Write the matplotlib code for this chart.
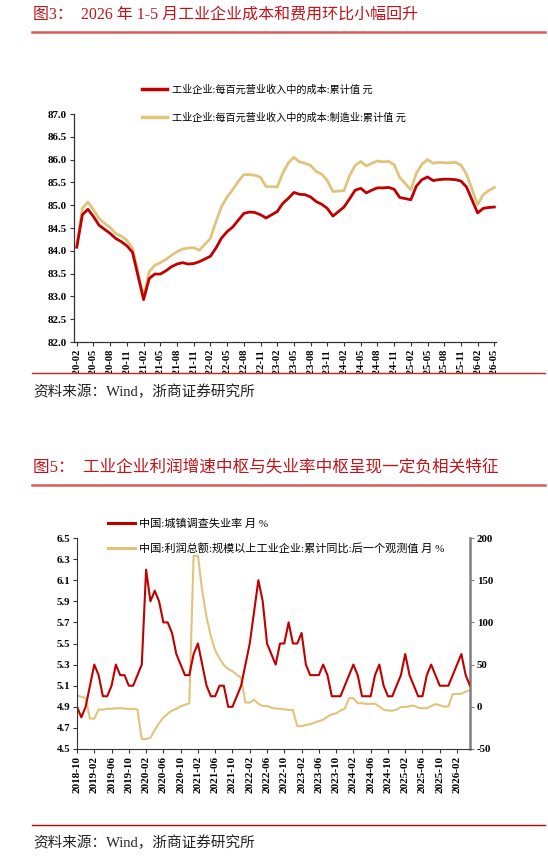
import numpy as np
import pandas as pd
import matplotlib
matplotlib.use("Agg")
import matplotlib.pyplot as plt
from matplotlib.lines import Line2D
from matplotlib.patches import Rectangle

plt.rcParams['font.family'] = ['Liberation Serif', 'Noto Sans CJK SC']

nan = np.nan

# ---- figure 3 data: cost per 100 yuan revenue (January has no print)
months_top = pd.period_range('2020-02', '2026-05', freq='M')
cost_total = [84.08, 84.79, 84.91, 84.75, 84.56, 84.47, 84.38, 84.27, 84.20, 84.11, 83.97, nan,
              82.93, 83.39, 83.49, 83.49, 83.56, 83.65, 83.71, 83.74, 83.71, 83.72, 83.76, nan,
              83.88, 84.06, 84.28, 84.42, 84.52, 84.67, 84.82, 84.85, 84.84, 84.79, 84.72, nan,
              84.86, 85.04, 85.15, 85.28, 85.24, 85.23, 85.18, 85.08, 85.02, 84.93, 84.76, nan,
              84.96, 85.14, 85.33, 85.37, 85.27, 85.33, 85.38, 85.38, 85.39, 85.35, 85.17, nan,
              85.12, 85.42, 85.56, 85.62, 85.54, 85.56, 85.57, 85.57, 85.56, 85.53, 85.40, nan,
              84.83, 84.93, 84.95, 84.96]
cost_manu = [84.10, 84.93, 85.07, 84.90, 84.71, 84.60, 84.51, 84.38, 84.32, 84.23, 84.06, nan,
             82.99, 83.54, 83.68, 83.74, 83.81, 83.90, 83.98, 84.04, 84.06, 84.07, 84.01, nan,
             84.27, 84.64, 84.97, 85.18, 85.34, 85.52, 85.67, 85.67, 85.66, 85.61, 85.41, nan,
             85.40, 85.70, 85.93, 86.05, 85.95, 85.92, 85.87, 85.74, 85.68, 85.54, 85.30, nan,
             85.32, 85.65, 85.87, 85.96, 85.86, 85.92, 85.97, 85.95, 85.96, 85.89, 85.61, nan,
             85.34, 85.70, 85.90, 86.00, 85.92, 85.94, 85.93, 85.93, 85.94, 85.88, 85.68, nan,
             85.01, 85.23, 85.32, 85.39]
label_top_1 = '工业企业:每百元营业收入中的成本:累计值 元'
label_top_2 = '工业企业:每百元营业收入中的成本:制造业:累计值 元'

# ---- figure 5 data
months_bot = pd.period_range('2018-10', '2026-05', freq='M')
unemp = [4.9, 4.8, 4.9,
         5.1, 5.3, 5.2, 5.0, 5.0, 5.1, 5.3, 5.2, 5.2, 5.1, 5.1, 5.2,
         5.3, 6.2, 5.9, 6.0, 5.9, 5.7, 5.7, 5.6, 5.4, 5.3, 5.2, 5.2,
         5.4, 5.5, 5.3, 5.1, 5.0, 5.0, 5.1, 5.1, 4.9, 4.9, 5.0, 5.1,
         5.3, 5.5, 5.8, 6.1, 5.9, 5.5, 5.4, 5.3, 5.5, 5.5, 5.7, 5.5,
         5.5, 5.6, 5.3, 5.2, 5.2, 5.2, 5.3, 5.2, 5.0, 5.0, 5.0, 5.1,
         5.2, 5.3, 5.2, 5.0, 5.0, 5.0, 5.2, 5.3, 5.1, 5.0, 5.0, 5.1,
         5.2, 5.4, 5.2, 5.1, 5.0, 5.0, 5.2, 5.3, 5.2, 5.1, 5.1, 5.1,
         5.2, 5.3, 5.4, 5.2, 5.1]
profit_yoy = [13.6, 11.8, 10.3,
              -14.0, -14.0, -3.3, -3.4, -2.3, -2.4, -1.7, -1.7, -2.1, -2.9, -2.1, -3.3,
              -38.3, -38.3, -36.7, -27.4, -19.3, -12.8, -8.1, -4.4, -2.4, 0.7, 2.4, 4.1,
              178.9, 178.9, 137.3, 106.0, 83.4, 66.9, 57.3, 49.5, 44.7, 42.2, 38.0, 34.3,
              5.0, 5.0, 8.5, 3.5, 1.0, 1.0, -1.1, -2.1, -2.3, -3.0, -3.6, -4.0,
              -22.9, -22.9, -21.4, -20.6, -18.8, -16.8, -15.5, -11.7, -9.0, -7.8, -4.4, -2.3,
              10.2, 10.2, 4.3, 4.3, 3.4, 3.5, 3.6, 0.5, -3.5, -4.3, -4.7, -3.3,
              -0.3, -0.3, 0.8, 1.4, -1.1, -1.8, -1.7, 0.9, 3.2, 1.9, 0.1, 0.6,
              15.2, 15.2, 15.5, 18.0, 19.5]
label_bot_1 = '中国:城镇调查失业率 月 %'
label_bot_2 = '中国:利润总额:规模以上工业企业:累计同比:后一个观测值 月 %'

title_top = '图3：  2026 年 1-5 月工业企业成本和费用环比小幅回升'
title_bot = '图5：  工业企业利润增速中枢与失业率中枢呈现一定负相关特征'
source = '资料来源：Wind，浙商证券研究所'

RED = '#C00000'
GOLD = '#E0C47C'
TITLE_RED = '#C0141C'
W, H = 548, 856


def box(x0, y0, x1, y1):
    # pixel box (top-left origin) -> figure fraction rect
    return [x0 / W, 1 - y1 / H, (x1 - x0) / W, (y1 - y0) / H]


def fx(x):
    return x / W


def fy(y):
    return 1 - y / H


fig = plt.figure(figsize=(W / 100, H / 100), dpi=100)
fig.patch.set_facecolor('white')

tick_font = dict(family='Liberation Serif', weight='bold')

# ================= top chart =================
ax1 = fig.add_axes(box(74, 114, 496, 342))
xt = np.arange(len(months_top))
for vals, col in [(cost_manu, GOLD), (cost_total, RED)]:
    v = np.array(vals)
    ok = ~np.isnan(v)
    ax1.plot(xt[ok], v[ok], color=col, lw=2.0, solid_joinstyle='round')
ax1.set_xlim(-0.5, 75.3)
ax1.set_ylim(82, 87)
ax1.set_yticks(np.arange(82, 87.01, 0.5))
ax1.set_yticklabels([f'{v:.1f}' for v in np.arange(82, 87.01, 0.5)], fontsize=7.8, **tick_font)
ax1.set_xticks(xt[::3])
ax1.set_xticklabels([str(p) for p in months_top[::3]], rotation=90, fontsize=7.7, **tick_font)
for s in ['top', 'right']:
    ax1.spines[s].set_visible(False)
for s in ['left', 'bottom']:
    ax1.spines[s].set_color('#333333')
    ax1.spines[s].set_linewidth(0.9)
ax1.tick_params(axis='both', direction='out', length=3, width=0.8, color='#333333', pad=2)

h_top = [Line2D([], [], color=RED, lw=2.5), Line2D([], [], color=GOLD, lw=2.5)]
fig.legend(h_top, [label_top_1, label_top_2], loc='upper left',
           bbox_to_anchor=(fx(138), fy(80)), frameon=False,
           prop={'family': ['Liberation Serif', 'Noto Sans CJK SC'], 'size': 7.3},
           handlelength=2.5, handletextpad=0.5, labelspacing=1.75, borderaxespad=0)

# ================= bottom chart =================
ax2 = fig.add_axes(box(77, 538, 470, 749))
xb = np.arange(len(months_bot))
ax3 = ax2.twinx()
ax3.plot(xb, profit_yoy, color=GOLD, lw=1.5)
ax2.plot(xb, unemp, color=RED, lw=1.5)
ax2.set_zorder(ax3.get_zorder() + 1)
ax2.patch.set_visible(False)
ax2.set_xlim(0, 91)
ax2.set_ylim(4.5, 6.5)
ax3.set_ylim(-50, 200)
ax2.set_yticks(np.arange(4.5, 6.51, 0.2))
ax2.set_yticklabels([f'{v:.1f}' for v in np.arange(4.5, 6.51, 0.2)], fontsize=7.8, **tick_font)
ax3.set_yticks(np.arange(-50, 201, 50))
ax3.set_yticklabels([str(v) for v in range(-50, 201, 50)], fontsize=7.8, **tick_font)
ax2.set_xticks(xb[::4])
ax2.set_xticklabels([str(p) for p in months_bot[::4]], rotation=90, fontsize=8, **tick_font)
for a in (ax2, ax3):
    a.spines['top'].set_visible(False)
ax2.spines['right'].set_visible(False)
ax3.spines['left'].set_visible(False)
ax3.spines['bottom'].set_visible(False)
ax2.spines['left'].set_color('#333333')
ax2.spines['bottom'].set_color('#333333')
ax3.spines['right'].set_color('#7F7F7F')
ax3.spines['right'].set_linewidth(1.8)
ax2.tick_params(axis='both', direction='out', length=3, width=0.8, color='#333333', pad=2)
ax3.tick_params(axis='y', direction='out', length=3, width=0.8, color='#7F7F7F', pad=2)

h_bot = [Line2D([], [], color=RED, lw=2.2), Line2D([], [], color=GOLD, lw=2.2)]
fig.legend(h_bot, [label_bot_1, label_bot_2], loc='upper left',
           bbox_to_anchor=(fx(104), fy(514)), frameon=False,
           prop={'family': ['Liberation Serif', 'Noto Sans CJK SC'], 'size': 8},
           handlelength=2.4, handletextpad=0.35, labelspacing=1.3, borderaxespad=0)

# ================= titles, rules, sources =================
# white band that cuts off the top chart's date labels, like the report layout
fig.add_artist(Rectangle((0, fy(455)), 1, fy(372.5) - fy(455), transform=fig.transFigure,
                         facecolor='white', edgecolor='none', zorder=5))

fig.text(fx(33), fy(15), title_top, color=TITLE_RED, fontsize=11.5, va='center', zorder=6)
fig.text(fx(33), fy(467), title_bot, color=TITLE_RED, fontsize=12, va='center', zorder=6)
for y, col, lw in [(31.5, '#DA5B5B', 1.8), (484.5, '#DA5B5B', 1.8),
                   (372.5, '#D42020', 1.0), (825, '#C00000', 1.0)]:
    fig.add_artist(Line2D([fx(32), fx(545)], [fy(y), fy(y)], color=col, lw=lw,
                          transform=fig.transFigure, zorder=6))
fig.text(fx(33), fy(392), source, color='#222222', fontsize=10.5, va='center', zorder=6)
fig.text(fx(33), fy(843), source, color='#222222', fontsize=10.5, va='center', zorder=6)

fig.savefig('out.png', dpi=100, facecolor='white')
